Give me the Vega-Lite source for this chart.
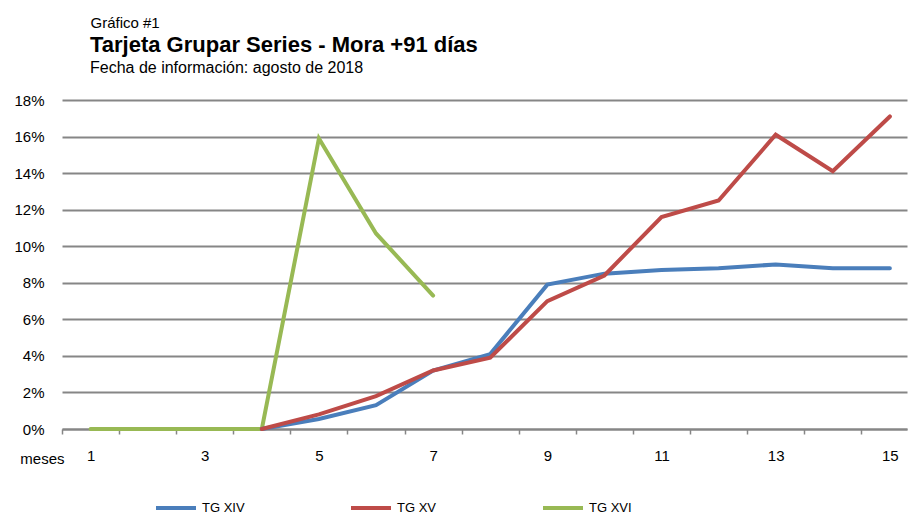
{
  "$schema": "https://vega.github.io/schema/vega-lite/v6.json",
  "autosize": {"type": "none"},
  "padding": {"left": 62, "top": 100, "right": 3, "bottom": 90},
  "width": 845,
  "height": 329,
  "background": "white",
  "config": {
    "font": "Liberation Sans",
    "view": {"stroke": null}
  },
  "title": {
    "text": "Tarjeta Grupar Series - Mora +91 días",
    "subtitle": "Fecha de información: agosto de 2018",
    "anchor": "start",
    "frame": "group",
    "dx": 28,
    "offset": -62,
    "font": "Liberation Sans",
    "fontSize": 22,
    "fontWeight": "bold",
    "color": "black",
    "subtitleFont": "Liberation Sans",
    "subtitleFontSize": 16,
    "subtitleColor": "black",
    "subtitlePadding": 3
  },
  "data": {
    "values": [
      {"mes": 1, "serie": "TG XVI", "valor": 0},
      {"mes": 2, "serie": "TG XVI", "valor": 0},
      {"mes": 3, "serie": "TG XVI", "valor": 0},
      {"mes": 4, "serie": "TG XVI", "valor": 0},
      {"mes": 5, "serie": "TG XVI", "valor": 0.159},
      {"mes": 6, "serie": "TG XVI", "valor": 0.107},
      {"mes": 7, "serie": "TG XVI", "valor": 0.073},
      {"mes": 4, "serie": "TG XIV", "valor": 0},
      {"mes": 5, "serie": "TG XIV", "valor": 0.0055},
      {"mes": 6, "serie": "TG XIV", "valor": 0.013},
      {"mes": 7, "serie": "TG XIV", "valor": 0.032},
      {"mes": 8, "serie": "TG XIV", "valor": 0.041},
      {"mes": 9, "serie": "TG XIV", "valor": 0.079},
      {"mes": 10, "serie": "TG XIV", "valor": 0.085},
      {"mes": 11, "serie": "TG XIV", "valor": 0.087},
      {"mes": 12, "serie": "TG XIV", "valor": 0.088},
      {"mes": 13, "serie": "TG XIV", "valor": 0.090},
      {"mes": 14, "serie": "TG XIV", "valor": 0.088},
      {"mes": 15, "serie": "TG XIV", "valor": 0.088},
      {"mes": 4, "serie": "TG XV", "valor": 0},
      {"mes": 5, "serie": "TG XV", "valor": 0.008},
      {"mes": 6, "serie": "TG XV", "valor": 0.018},
      {"mes": 7, "serie": "TG XV", "valor": 0.032},
      {"mes": 8, "serie": "TG XV", "valor": 0.039},
      {"mes": 9, "serie": "TG XV", "valor": 0.070},
      {"mes": 10, "serie": "TG XV", "valor": 0.084},
      {"mes": 11, "serie": "TG XV", "valor": 0.116},
      {"mes": 12, "serie": "TG XV", "valor": 0.125},
      {"mes": 13, "serie": "TG XV", "valor": 0.161},
      {"mes": 14, "serie": "TG XV", "valor": 0.141},
      {"mes": 15, "serie": "TG XV", "valor": 0.171}
    ]
  },
  "resolve": {"axis": {"x": "independent"}},
  "layer": [
    {
      "mark": {"type": "line", "strokeOpacity": 0},
      "encoding": {
        "x": {
          "field": "mes", "type": "quantitative",
          "scale": {"domain": [0.5, 15.3], "nice": false, "zero": false},
          "axis": {
            "orient": "bottom",
            "values": [0.5, 1.5, 2.5, 3.5, 4.5, 5.5, 6.5, 7.5, 8.5, 9.5, 10.5, 11.5, 12.5, 13.5, 14.5],
            "labels": false,
            "grid": false,
            "domain": false,
            "ticks": true,
            "tickSize": 5,
            "tickWidth": 1.5,
            "tickColor": "#868686",
            "title": null
          }
        },
        "y": {
          "field": "valor", "type": "quantitative",
          "scale": {"domain": [0, 0.18], "nice": false},
          "axis": {
            "values": [0, 0.02, 0.04, 0.06, 0.08, 0.1, 0.12, 0.14, 0.16, 0.18],
            "format": ".0%",
            "ticks": false,
            "domain": false,
            "grid": true,
            "gridColor": "#868686",
            "gridWidth": 1.8,
            "labelFontSize": 15,
            "labelColor": "black",
            "labelPadding": 18,
            "labelOverlap": false,
            "title": "Gráfico #1",
            "titleAngle": 0,
            "titleAlign": "left",
            "titleBaseline": "alphabetic",
            "titleFontSize": 15,
            "titleFontWeight": "normal",
            "titleColor": "black",
            "titleX": 28,
            "titleY": -73
          }
        },
        "detail": {"field": "serie"}
      }
    },
    {
      "mark": {"type": "line", "strokeWidth": 4, "strokeCap": "round", "strokeJoin": "miter"},
      "encoding": {
        "x": {
          "field": "mes", "type": "quantitative",
          "scale": {"domain": [0.5, 15.3], "nice": false, "zero": false},
          "axis": {
            "orient": "bottom",
            "values": [1, 3, 5, 7, 9, 11, 13, 15],
            "ticks": false,
            "grid": false,
            "domain": true,
            "domainColor": "#868686",
            "domainWidth": 1.8,
            "labelFontSize": 15,
            "labelColor": "black",
            "labelPadding": 19,
            "title": "meses",
            "titleFontSize": 15,
            "titleFontWeight": "normal",
            "titleColor": "black",
            "titleAlign": "right",
            "titleBaseline": "alphabetic",
            "titleAnchor": "start",
            "titleX": 2,
            "titleY": 34
          }
        },
        "y": {
          "field": "valor", "type": "quantitative",
          "scale": {"domain": [0, 0.18], "nice": false},
          "axis": {
            "values": [0, 0.02, 0.04, 0.06, 0.08, 0.1, 0.12, 0.14, 0.16, 0.18],
            "format": ".0%",
            "ticks": false,
            "domain": false,
            "grid": true,
            "gridColor": "#868686",
            "gridWidth": 1.8,
            "labelFontSize": 15,
            "labelColor": "black",
            "labelPadding": 18,
            "labelOverlap": false,
            "title": "Gráfico #1",
            "titleAngle": 0,
            "titleAlign": "left",
            "titleBaseline": "alphabetic",
            "titleFontSize": 15,
            "titleFontWeight": "normal",
            "titleColor": "black",
            "titleX": 28,
            "titleY": -73
          }
        },
        "color": {
          "field": "serie", "type": "nominal",
          "scale": {"domain": ["TG XIV", "TG XV", "TG XVI"], "range": ["#4A7EBB", "#BE4B48", "#98B954"]},
          "legend": {
            "orient": "none",
            "direction": "horizontal",
            "columns": 3,
            "legendX": 92,
            "legendY": 386,
            "title": null,
            "symbolType": "stroke",
            "symbolSize": 1600,
            "symbolStrokeWidth": 4,
            "symbolOpacity": 1,
            "labelFontSize": 13,
            "labelColor": "black",
            "labelOffset": 4,
            "columnPadding": 98
          }
        }
      }
    }
  ]
}
